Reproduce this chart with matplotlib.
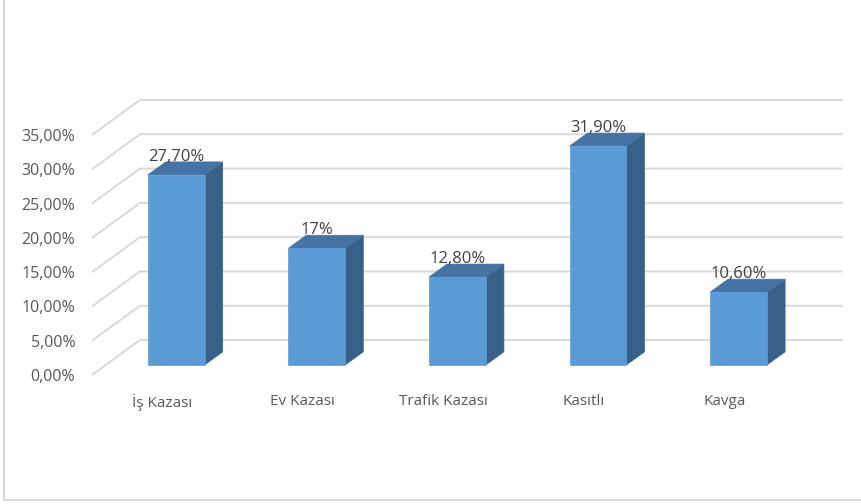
import matplotlib.pyplot as plt
from matplotlib.patches import Polygon
from matplotlib.lines import Line2D

# Accident type shares
categories = ["İş Kazası", "Ev Kazası", "Trafik Kazası", "Kasıtlı", "Kavga"]
values = [27.7, 17.0, 12.8, 31.9, 10.6]
value_labels = ["27,70%", "17%", "12,80%", "31,90%", "10,60%"]
y_ticks = [0, 5, 10, 15, 20, 25, 30, 35]
y_tick_labels = ["0,00%", "5,00%", "10,00%", "15,00%", "20,00%", "25,00%", "30,00%", "35,00%"]

plt.rcParams['font.family'] = ['Open Sans', 'DejaVu Sans']

FRONT = '#5B9BD5'
TOP = '#4573A4'
SIDE = '#386189'
GRID = '#D9D9D9'

fig = plt.figure(figsize=(8.62, 5.04), dpi=100)
# axes = front edge of the floor; back wall is shifted up-right by the depth
ax = fig.add_axes([92 / 862, 129 / 504, 703 / 862, 240 / 504])
ax.set_xlim(0, len(categories))
ax.set_ylim(0, 35)

depth_x, depth_y = 0.3414, 5.104       # full floor depth in data units
off_x, off_y = 0.29 * depth_x, 0.29 * depth_y   # bar front face sits a bit behind the floor edge
bar_dx, bar_dy = 0.128, 1.896          # bar depth
bar_w = 0.405

# back wall + side wall gridlines
for t in y_ticks:
    ax.plot([0, depth_x, len(categories) + depth_x], [t, t + depth_y, t + depth_y],
            color=GRID, lw=1.4, clip_on=False, zorder=1, solid_capstyle='butt')

x_pos = [i + 0.5 for i in range(len(categories))]

for x, v in zip(x_pos, values):
    x0 = x - bar_w / 2 + off_x
    x1 = x0 + bar_w
    y0 = off_y
    y1 = v + off_y
    side = Polygon([(x1, y0), (x1 + bar_dx, y0 + bar_dy), (x1 + bar_dx, y1 + bar_dy), (x1, y1)],
                   closed=True, facecolor=SIDE, edgecolor=SIDE, lw=0.5, clip_on=False, zorder=3)
    top = Polygon([(x0, y1), (x0 + bar_dx, y1 + bar_dy), (x1 + bar_dx, y1 + bar_dy), (x1, y1)],
                  closed=True, facecolor=TOP, edgecolor=TOP, lw=0.5, clip_on=False, zorder=3)
    ax.add_patch(side)
    ax.add_patch(top)

bars = ax.bar([x + off_x for x in x_pos], values, width=bar_w, bottom=off_y,
              color=FRONT, edgecolor=FRONT, lw=0.5, zorder=4, clip_on=False)

for x, v, lbl in zip(x_pos, values, value_labels):
    ax.annotate(lbl, (x + off_x, v + off_y), xytext=(0, 13), textcoords='offset points',
                ha='center', va='center', fontsize=12, color='#404040', zorder=5)

ax.set_yticks(y_ticks, y_tick_labels)
ax.set_xticks(x_pos, categories)
ax.tick_params(axis='y', length=0, pad=12, labelsize=11.5, labelcolor='#595959')
ax.tick_params(axis='x', length=0, pad=14, labelsize=11, labelcolor='#595959')
for s in ax.spines.values():
    s.set_visible(False)
ax.set_facecolor('none')

# chart area border (left and bottom edges visible)
fig.add_artist(Line2D([4.5 / 862, 4.5 / 862], [4 / 504, 1], color='#D9D9D9', lw=1.5))
fig.add_artist(Line2D([4.5 / 862, 1], [4 / 504, 4 / 504], color='#D9D9D9', lw=1.5))

fig.savefig('out.png', dpi=100)
